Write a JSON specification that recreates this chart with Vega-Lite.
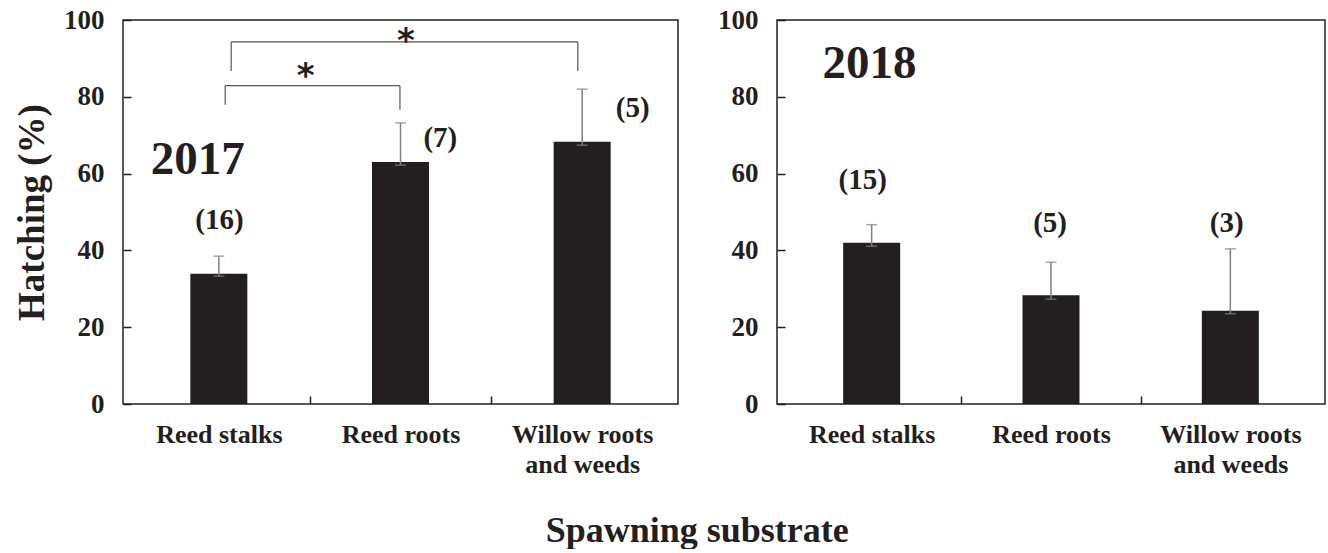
{
  "$schema": "https://vega.github.io/schema/vega-lite/v6.json",
  "padding": {"left": 12, "right": 0, "top": 5, "bottom": 0},
  "background": "white",
  "config": {
    "font": "Liberation Serif",
    "view": {"stroke": "#231f20", "strokeWidth": 1.5},
    "axis": {
      "grid": false,
      "domain": false,
      "labelFont": "Liberation Serif",
      "labelFontWeight": "bold",
      "labelColor": "#231f20",
      "titleFont": "Liberation Serif",
      "titleFontWeight": "bold",
      "titleColor": "#231f20",
      "tickColor": "#231f20",
      "tickWidth": 1.5
    }
  },
  "title": {
    "text": "Spawning substrate",
    "orient": "bottom",
    "anchor": "middle",
    "font": "Liberation Serif",
    "fontSize": 36,
    "fontWeight": "bold",
    "color": "#231f20",
    "offset": 36,
    "dx": 28
  },
  "datasets": {
    "bars2017": [
      {"substrate": "Reed stalks", "pos": 0.5, "mean": 33.9, "lo": 33.3, "hi": 38.5},
      {"substrate": "Reed roots", "pos": 1.5, "mean": 63.0, "lo": 62.2, "hi": 73.2},
      {"substrate": "Willow roots and weeds", "pos": 2.5, "mean": 68.3, "lo": 67.4, "hi": 82.0}
    ],
    "bars2018": [
      {"substrate": "Reed stalks", "pos": 0.5, "mean": 42.0, "lo": 41.1, "hi": 46.7},
      {"substrate": "Reed roots", "pos": 1.5, "mean": 28.3, "lo": 27.3, "hi": 36.9},
      {"substrate": "Willow roots and weeds", "pos": 2.5, "mean": 24.3, "lo": 23.5, "hi": 40.4}
    ],
    "n2017": [
      {"label": "(16)", "x": 0.503, "y": 47.9},
      {"label": "(7)", "x": 1.719, "y": 69.3},
      {"label": "(5)", "x": 2.778, "y": 77.0}
    ],
    "n2018": [
      {"label": "(15)", "x": 0.45, "y": 58.3},
      {"label": "(5)", "x": 1.495, "y": 47.1},
      {"label": "(3)", "x": 2.48, "y": 47.1}
    ],
    "brackets": [
      {"x": 0.535, "x2": 1.497, "y": 82.9, "y2": 82.9},
      {"x": 0.535, "x2": 0.535, "y": 77.9, "y2": 82.9},
      {"x": 1.497, "x2": 1.497, "y": 76.6, "y2": 82.9},
      {"x": 0.568, "x2": 2.476, "y": 94.3, "y2": 94.3},
      {"x": 0.568, "x2": 0.568, "y": 86.7, "y2": 94.3},
      {"x": 2.476, "x2": 2.476, "y": 86.7, "y2": 94.3}
    ],
    "stars": [
      {"label": "*", "x": 0.978, "y": 87.5},
      {"label": "*", "x": 1.53, "y": 96.6}
    ],
    "year2017": [{"label": "2017", "x": 0.384, "y": 63.5}],
    "year2018": [{"label": "2018", "x": 0.488, "y": 88.5}]
  },
  "spacing": 37,
  "hconcat": [
    {
      "width": 555,
      "height": 384,
      "encoding": {
        "x": {
          "field": "pos", "type": "quantitative",
          "scale": {"domain": [0, 3], "nice": false, "zero": false},
          "axis": {
            "title": null,
            "values": [0.5, 1, 1.5, 2, 2.5],
            "labelExpr": "datum.value == 0.5 ? 'Reed stalks' : datum.value == 1.5 ? 'Reed roots' : datum.value == 2.5 ? ['Willow roots', 'and weeds'] : ''",
            "labelFontSize": 26,
            "labelLineHeight": 30,
            "labelPadding": 25,
            "labelOverlap": false,
            "labelFlush": false,
            "tickSize": -8,
            "tickOpacity": {"condition": {"test": "datum.value % 1 == 0", "value": 1}, "value": 0}
          }
        },
        "y": {
          "field": "mean", "type": "quantitative",
          "scale": {"domain": [0, 100], "nice": false},
          "axis": {
            "title": "Hatching (%)",
            "titleFontSize": 37,
            "titlePadding": 12,
            "values": [0, 20, 40, 60, 80, 100],
            "labelFontSize": 27,
            "labelPadding": 27,
            "tickSize": -8
          }
        }
      },
      "layer": [
        {"data": {"name": "bars2017"}, "mark": {"type": "bar", "size": 57, "color": "#231f20"}},
        {"data": {"name": "bars2017"}, "mark": {"type": "rule", "color": "#808080", "strokeWidth": 1.5},
         "encoding": {"y": {"field": "lo", "type": "quantitative"}, "y2": {"field": "hi"}}},
        {"data": {"name": "bars2017"}, "mark": {"type": "tick", "orient": "horizontal", "size": 11, "thickness": 1.5, "color": "#808080"},
         "encoding": {"y": {"field": "lo", "type": "quantitative"}}},
        {"data": {"name": "bars2017"}, "mark": {"type": "tick", "orient": "horizontal", "size": 11, "thickness": 1.5, "color": "#808080"},
         "encoding": {"y": {"field": "hi", "type": "quantitative"}}},
        {"data": {"name": "brackets"}, "mark": {"type": "rule", "color": "#555555", "strokeWidth": 1.2},
         "encoding": {"x": {"field": "x", "type": "quantitative"}, "x2": {"field": "x2"}, "y": {"field": "y", "type": "quantitative"}, "y2": {"field": "y2"}}},
        {"data": {"name": "stars"}, "mark": {"type": "text", "font": "DejaVu Sans", "fontWeight": "bold", "fontSize": 34, "color": "#231f20", "baseline": "middle", "dy": 9},
         "encoding": {"x": {"field": "x", "type": "quantitative"}, "y": {"field": "y", "type": "quantitative"}, "text": {"field": "label"}}},
        {"data": {"name": "n2017"}, "mark": {"type": "text", "font": "Liberation Serif", "fontWeight": "bold", "fontSize": 29, "color": "#231f20", "baseline": "middle"},
         "encoding": {"x": {"field": "x", "type": "quantitative"}, "y": {"field": "y", "type": "quantitative"}, "text": {"field": "label"}}},
        {"data": {"name": "year2017"}, "mark": {"type": "text", "font": "Liberation Serif", "fontWeight": "bold", "fontSize": 47, "color": "#231f20", "baseline": "middle"},
         "encoding": {"x": {"field": "x", "type": "quantitative"}, "y": {"field": "y", "type": "quantitative"}, "text": {"field": "label"}}}
      ]
    },
    {
      "width": 548,
      "height": 384,
      "encoding": {
        "x": {
          "field": "pos", "type": "quantitative",
          "scale": {"domain": [0, 3], "nice": false, "zero": false},
          "axis": {
            "title": null,
            "values": [0.5, 1, 1.5, 2, 2.5],
            "labelExpr": "datum.value == 0.5 ? 'Reed stalks' : datum.value == 1.5 ? 'Reed roots' : datum.value == 2.5 ? ['Willow roots', 'and weeds'] : ''",
            "labelFontSize": 26,
            "labelLineHeight": 30,
            "labelPadding": 25,
            "labelOverlap": false,
            "labelFlush": false,
            "tickSize": -8,
            "tickOpacity": {"condition": {"test": "datum.value % 1 == 0", "value": 1}, "value": 0}
          }
        },
        "y": {
          "field": "mean", "type": "quantitative",
          "scale": {"domain": [0, 100], "nice": false},
          "axis": {
            "title": null,
            "values": [0, 20, 40, 60, 80, 100],
            "labelFontSize": 27,
            "labelPadding": 27,
            "tickSize": -8
          }
        }
      },
      "layer": [
        {"data": {"name": "bars2018"}, "mark": {"type": "bar", "size": 57, "color": "#231f20"}},
        {"data": {"name": "bars2018"}, "mark": {"type": "rule", "color": "#808080", "strokeWidth": 1.5},
         "encoding": {"y": {"field": "lo", "type": "quantitative"}, "y2": {"field": "hi"}}},
        {"data": {"name": "bars2018"}, "mark": {"type": "tick", "orient": "horizontal", "size": 11, "thickness": 1.5, "color": "#808080"},
         "encoding": {"y": {"field": "lo", "type": "quantitative"}}},
        {"data": {"name": "bars2018"}, "mark": {"type": "tick", "orient": "horizontal", "size": 11, "thickness": 1.5, "color": "#808080"},
         "encoding": {"y": {"field": "hi", "type": "quantitative"}}},
        {"data": {"name": "n2018"}, "mark": {"type": "text", "font": "Liberation Serif", "fontWeight": "bold", "fontSize": 29, "color": "#231f20", "baseline": "middle"},
         "encoding": {"x": {"field": "x", "type": "quantitative"}, "y": {"field": "y", "type": "quantitative"}, "text": {"field": "label"}}},
        {"data": {"name": "year2018"}, "mark": {"type": "text", "font": "Liberation Serif", "fontWeight": "bold", "fontSize": 47, "color": "#231f20", "baseline": "middle"},
         "encoding": {"x": {"field": "x", "type": "quantitative"}, "y": {"field": "y", "type": "quantitative"}, "text": {"field": "label"}}}
      ]
    }
  ]
}
